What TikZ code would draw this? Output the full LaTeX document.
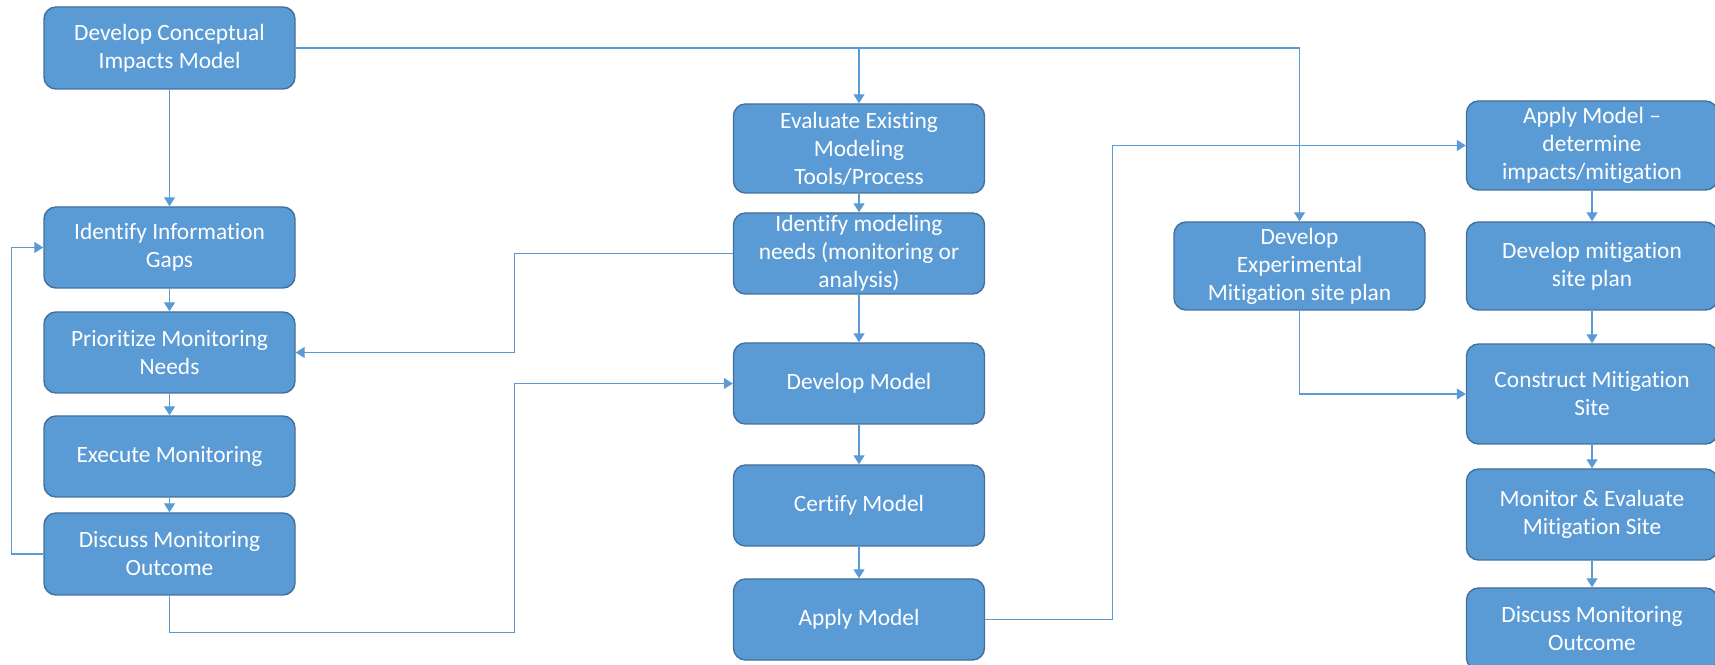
\documentclass[tikz,border=0pt]{standalone}
\usepackage{fontspec}
\setmainfont{Carlito}[Ligatures=NoCommon]
\usetikzlibrary{arrows.meta,calc}

\definecolor{stagefill}{HTML}{5B9BD5}
\definecolor{stageedge}{HTML}{41719C}
\definecolor{flowline}{HTML}{5B9BD5}

\begin{document}
\begin{tikzpicture}[
  stage/.style={rectangle, draw=stageedge, fill=stagefill, line width=0.8pt, rounded corners=0.24cm,
    align=center, text=white, minimum width=5.02cm, minimum height=1.62cm, inner sep=1pt,
    font=\fontsize{13.3}{15.9}\selectfont},
  arrow/.style={-{Triangle[length=0.18cm, width=0.22cm]}, line width=0.75pt, draw=flowline},
]

\useasboundingbox (0,0) rectangle (34.30,13.28);
\clip (0,0) rectangle (34.30,13.28);

% === Monitoring column ===
\node[stage, minimum height=1.64cm] (concept) at (3.39, 12.32) {Develop Conceptual\\Impacts Model};
\node[stage] (gaps)    at (3.39, 8.33) {Identify Information\\Gaps};
\node[stage] (prior)   at (3.39, 6.23) {Prioritize Monitoring\\Needs};
\node[stage] (execmon) at (3.39, 4.15) {Execute Monitoring};
\node[stage, minimum height=1.64cm] (discuss) at (3.39, 2.20) {Discuss Monitoring\\Outcome};

% === Modeling column ===
\node[stage, minimum height=1.78cm] (evaluate) at (17.18, 10.31) {Evaluate Existing\\Modeling\\Tools/Process};
\node[stage] (needs)    at (17.18, 8.21) {Identify modeling\\needs (monitoring or\\analysis)};
\node[stage] (develop)  at (17.18, 5.61) {Develop Model};
\node[stage] (certify)  at (17.18, 3.17) {Certify Model};
\node[stage] (apply)    at (17.18, 0.89) {Apply Model};

% === Experimental site ===
\node[stage, minimum height=1.76cm] (expplan) at (25.99, 7.96) {Develop\\Experimental\\Mitigation site plan};

% === Mitigation column ===
\node[stage, minimum height=1.78cm] (applymit) at (31.84, 10.37) {Apply Model --\\determine\\impacts/mitigation};
\node[stage, minimum height=1.76cm] (mitplan)  at (31.84, 7.96) {Develop mitigation\\site plan};
\node[stage, minimum height=2.00cm] (construct) at (31.84, 5.40) {Construct Mitigation\\Site};
\node[stage, minimum height=1.82cm] (monitor)  at (31.84, 2.99) {Monitor \& Evaluate\\Mitigation Site};
\node[stage, minimum height=1.64cm] (discuss2) at (31.84, 0.70) {Discuss Monitoring\\Outcome};

% column chains
\draw[arrow] (concept) -- (gaps);
\draw[arrow] (gaps) -- (prior);
\draw[arrow] (prior) -- (execmon);
\draw[arrow] (execmon) -- (discuss);

\draw[arrow] (evaluate) -- (needs);
\draw[arrow] (needs) -- (develop);
\draw[arrow] (develop) -- (certify);
\draw[arrow] (certify) -- (apply);

\draw[arrow] (applymit) -- (mitplan);
\draw[arrow] (mitplan) -- (construct);
\draw[arrow] (construct) -- (monitor);
\draw[arrow] (monitor) -- (discuss2);

% cross links
\draw[arrow] (concept.east) -| (expplan.north);
\draw[arrow] (concept.east -| evaluate.north) -- (evaluate.north);
\draw[arrow] (discuss.west) -- ++(-0.64,0) |- (gaps.west);
\draw[arrow] (needs.west) -- ++(-4.37,0) |- (prior.east);
\draw[arrow] (discuss.south) -- ++(0,-0.74) -| ($(develop.west)+(-4.37,0)$) -- (develop.west);
\draw[arrow] (apply.east) -- ++(2.55,0) |- (applymit.west);
\draw[arrow] (expplan.south) |- (construct.west);

\end{tikzpicture}
\end{document}
